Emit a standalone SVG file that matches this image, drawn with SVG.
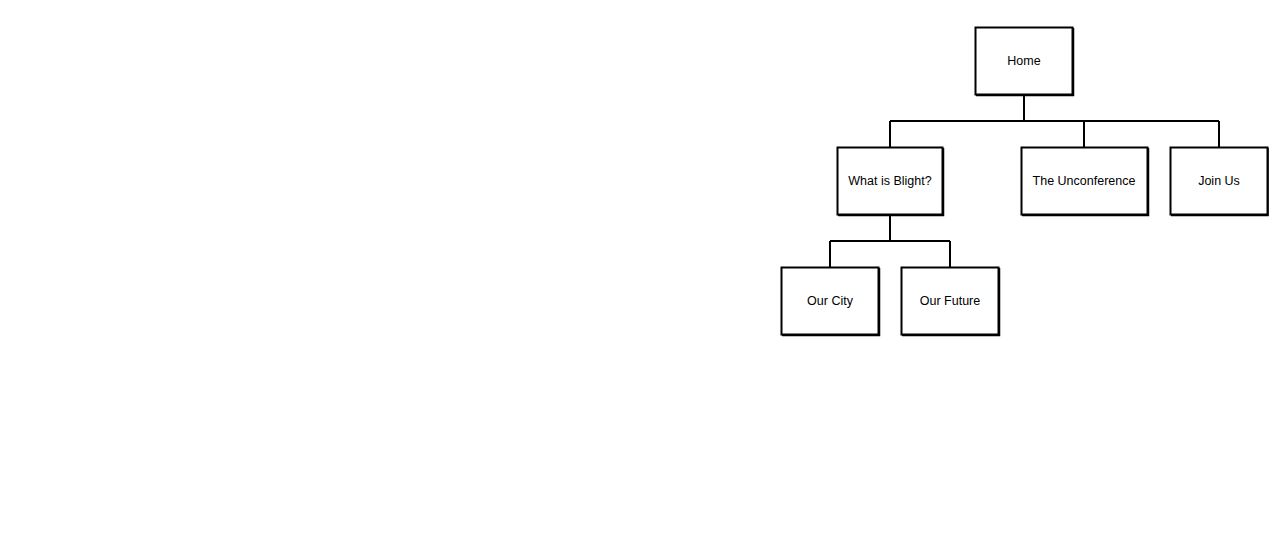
<svg xmlns="http://www.w3.org/2000/svg" width="1269" height="556" viewBox="0 0 1269 556">
<style>
.box{fill:#fff;stroke:#000;stroke-width:2}
.sh{fill:none;stroke:#000;stroke-width:1.5}
.lbl{font-family:"Liberation Sans",Arial,sans-serif;font-size:12.5px;fill:#000;text-anchor:middle;dominant-baseline:central}
.c{fill:none;stroke:#000;stroke-width:2}
</style>
<rect width="1269" height="556" fill="#fff"/>
<g id="connectors">
<path class="c" d="M1024 94V121M890 121H1219M890 121V147M1084 121V147M1219 121V147"/>
<path class="c" d="M890 214V241M830 241H950M830 241V267M950 241V267"/>
</g>
<g id="home"><rect class="box" x="975.5" y="27.5" width="97" height="67"/><path class="sh" d="M976 95.5H1073.5V28"/><text class="lbl" x="1024" y="61">Home</text></g>
<g id="blight"><rect class="box" x="837.5" y="147.5" width="105" height="67"/><path class="sh" d="M838 215.5H943.5V148"/><text class="lbl" x="890" y="181">What is Blight?</text></g>
<g id="unconf"><rect class="box" x="1021.5" y="147.5" width="126" height="67"/><path class="sh" d="M1022 215.5H1148.5V148"/><text class="lbl" x="1084" y="181">The Unconference</text></g>
<g id="joinus"><rect class="box" x="1170.5" y="147.5" width="97" height="67"/><path class="sh" d="M1171 215.5H1268V148"/><text class="lbl" x="1219" y="181">Join Us</text></g>
<g id="ourcity"><rect class="box" x="781.5" y="267.5" width="97" height="67"/><path class="sh" d="M782 335.5H879.5V268"/><text class="lbl" x="830" y="301">Our City</text></g>
<g id="ourfuture"><rect class="box" x="901.5" y="267.5" width="97" height="67"/><path class="sh" d="M902 335.5H999.5V268"/><text class="lbl" x="950" y="301">Our Future</text></g>
</svg>
